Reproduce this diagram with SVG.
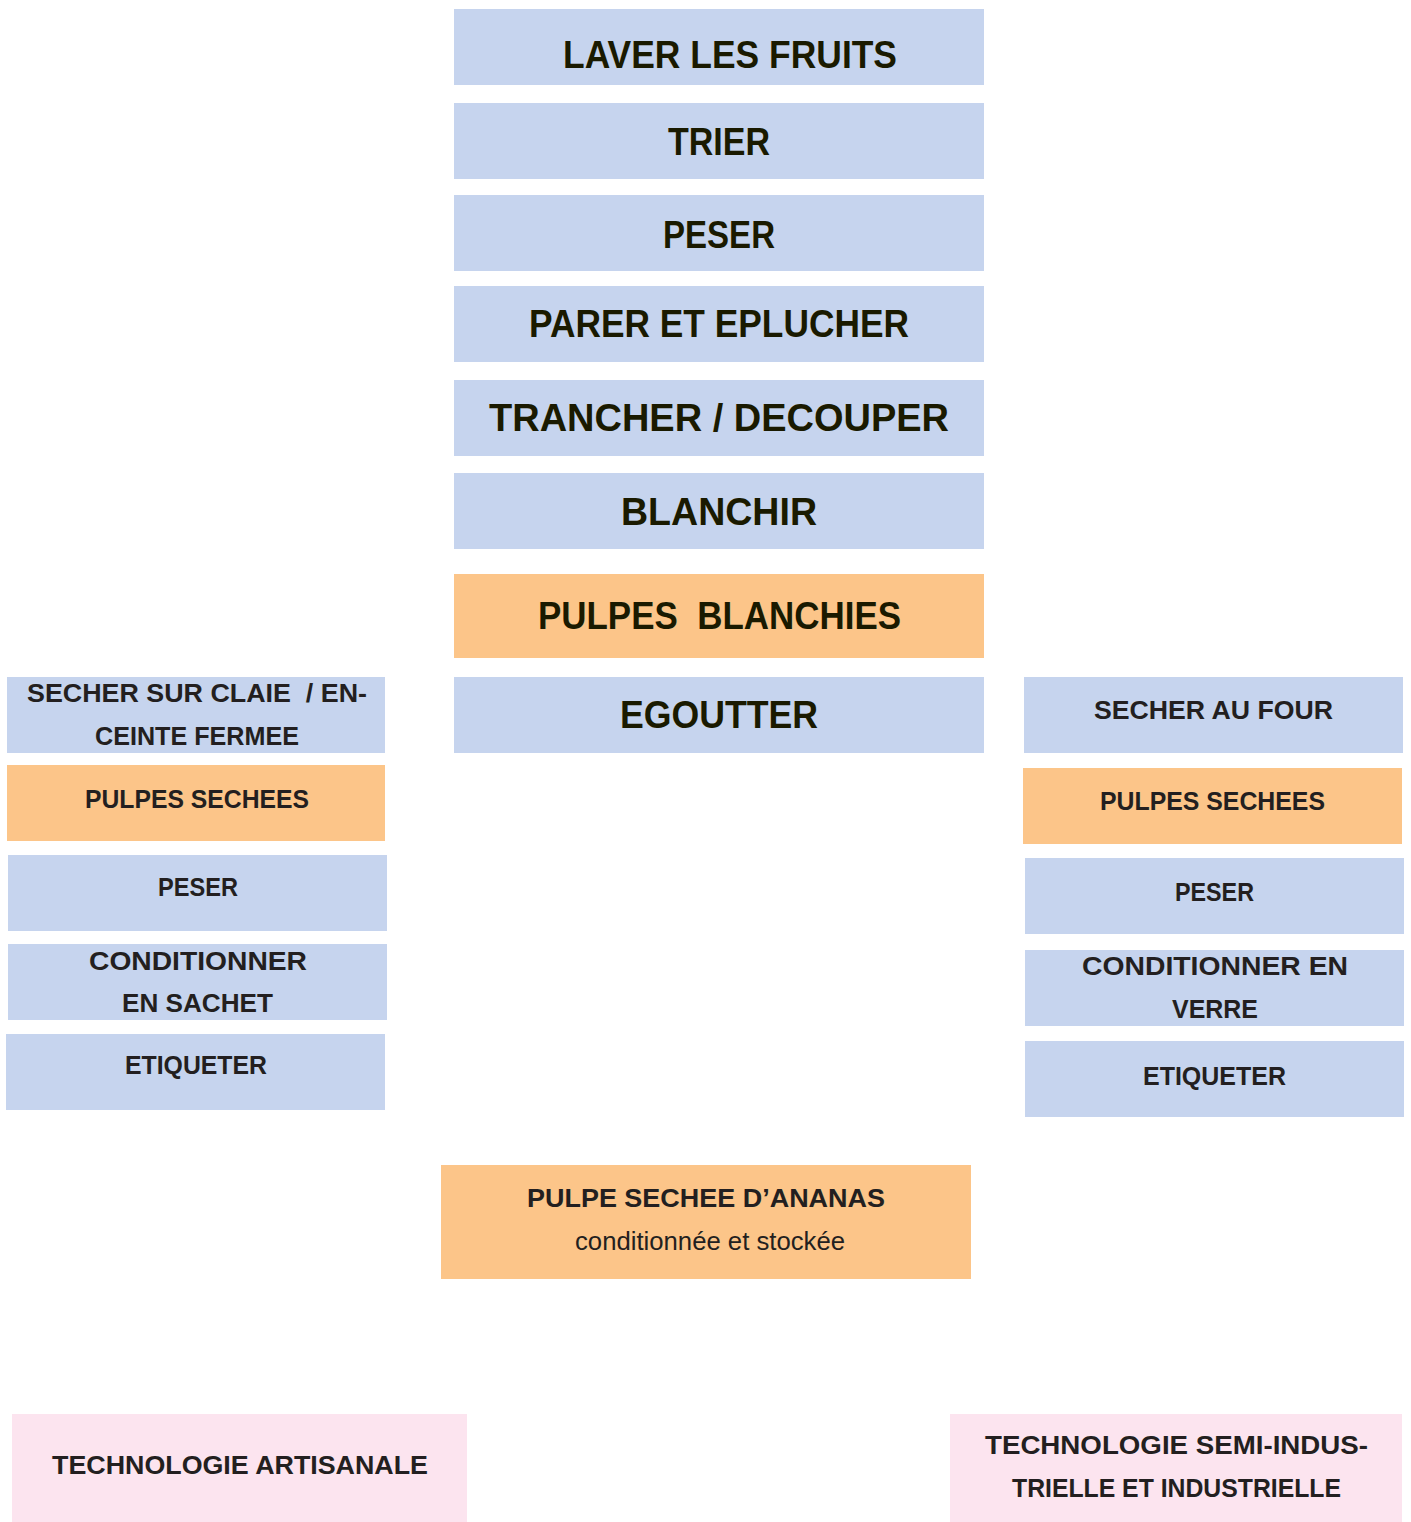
<svg xmlns="http://www.w3.org/2000/svg" width="1411" height="1522" viewBox="0 0 1411 1522">
<style>
.blue{fill:#C6D4EE}
.orange{fill:#FCC589}
.pink{fill:#FCE4EF}
.big{font-family:"Liberation Sans",Arial,sans-serif;font-weight:bold;font-size:39px;fill:#1A1A00;text-anchor:middle}
.small{font-family:"Liberation Sans",Arial,sans-serif;font-weight:bold;font-size:25px;fill:#231F20;text-anchor:middle}
.reg{font-family:"Liberation Sans",Arial,sans-serif;font-size:25px;fill:#231F20;text-anchor:middle}
</style>
<rect width="1411" height="1522" fill="#FFFFFF"/>
<g id="connectors"></g>
<g id="n-laver"><rect class="blue" x="454" y="9" width="530" height="76"/><text class="big" x="730" y="68" textLength="334" lengthAdjust="spacingAndGlyphs">LAVER LES FRUITS</text></g>
<g id="n-trier"><rect class="blue" x="454" y="103" width="530" height="76"/><text class="big" x="719" y="155" textLength="102" lengthAdjust="spacingAndGlyphs">TRIER</text></g>
<g id="n-peser"><rect class="blue" x="454" y="195" width="530" height="76"/><text class="big" x="719" y="248" textLength="112" lengthAdjust="spacingAndGlyphs">PESER</text></g>
<g id="n-parer"><rect class="blue" x="454" y="286" width="530" height="76"/><text class="big" x="719" y="337" textLength="380" lengthAdjust="spacingAndGlyphs">PARER ET EPLUCHER</text></g>
<g id="n-trancher"><rect class="blue" x="454" y="380" width="530" height="76"/><text class="big" x="719" y="431" textLength="460" lengthAdjust="spacingAndGlyphs">TRANCHER / DECOUPER</text></g>
<g id="n-blanchir"><rect class="blue" x="454" y="473" width="530" height="76"/><text class="big" x="719" y="525" textLength="196" lengthAdjust="spacingAndGlyphs">BLANCHIR</text></g>
<g id="n-pulpes-blanchies"><rect class="orange" x="454" y="574" width="530" height="84"/><text class="big" x="719.5" y="629" textLength="363" lengthAdjust="spacingAndGlyphs" xml:space="preserve">PULPES  BLANCHIES</text></g>
<g id="n-egoutter"><rect class="blue" x="454" y="677" width="530" height="76"/><text class="big" x="719" y="728" textLength="198" lengthAdjust="spacingAndGlyphs">EGOUTTER</text></g>

<g id="l-secher"><rect class="blue" x="7" y="677" width="378" height="76"/><text class="small" x="197" y="702" textLength="340" lengthAdjust="spacingAndGlyphs" xml:space="preserve">SECHER SUR CLAIE  / EN-</text><text class="small" x="197" y="745" textLength="204" lengthAdjust="spacingAndGlyphs">CEINTE FERMEE</text></g>
<g id="l-pulpes"><rect class="orange" x="7" y="765" width="378" height="76"/><text class="small" x="197" y="808" textLength="224" lengthAdjust="spacingAndGlyphs">PULPES SECHEES</text></g>
<g id="l-peser"><rect class="blue" x="8" y="855" width="379" height="76"/><text class="small" x="198" y="896" textLength="80" lengthAdjust="spacingAndGlyphs">PESER</text></g>
<g id="l-cond"><rect class="blue" x="8" y="944" width="379" height="76"/><text class="small" x="198" y="970" textLength="218" lengthAdjust="spacingAndGlyphs">CONDITIONNER</text><text class="small" x="197.5" y="1012" textLength="151" lengthAdjust="spacingAndGlyphs">EN SACHET</text></g>
<g id="l-etiq"><rect class="blue" x="6" y="1034" width="379" height="76"/><text class="small" x="196" y="1074" textLength="142" lengthAdjust="spacingAndGlyphs">ETIQUETER</text></g>

<g id="r-secher"><rect class="blue" x="1024" y="677" width="379" height="76"/><text class="small" x="1213.5" y="719" textLength="239" lengthAdjust="spacingAndGlyphs">SECHER AU FOUR</text></g>
<g id="r-pulpes"><rect class="orange" x="1023" y="768" width="379" height="76"/><text class="small" x="1212.5" y="810" textLength="225" lengthAdjust="spacingAndGlyphs">PULPES SECHEES</text></g>
<g id="r-peser"><rect class="blue" x="1025" y="858" width="379" height="76"/><text class="small" x="1214.5" y="901" textLength="79" lengthAdjust="spacingAndGlyphs">PESER</text></g>
<g id="r-cond"><rect class="blue" x="1025" y="950" width="379" height="76"/><text class="small" x="1215" y="975" textLength="266" lengthAdjust="spacingAndGlyphs">CONDITIONNER EN</text><text class="small" x="1215" y="1018" textLength="86" lengthAdjust="spacingAndGlyphs">VERRE</text></g>
<g id="r-etiq"><rect class="blue" x="1025" y="1041" width="379" height="76"/><text class="small" x="1214.5" y="1085" textLength="143" lengthAdjust="spacingAndGlyphs">ETIQUETER</text></g>

<g id="n-final"><rect class="orange" x="441" y="1165" width="530" height="114"/><text class="small" x="706" y="1207" textLength="358" lengthAdjust="spacingAndGlyphs">PULPE SECHEE D’ANANAS</text><text class="reg" x="710" y="1250" textLength="270" lengthAdjust="spacingAndGlyphs">conditionnée et stockée</text></g>

<g id="legend-artisanale"><rect class="pink" x="12" y="1414" width="455" height="108"/><text class="small" x="240" y="1474" textLength="376" lengthAdjust="spacingAndGlyphs">TECHNOLOGIE ARTISANALE</text></g>
<g id="legend-industrielle"><rect class="pink" x="950" y="1414" width="452" height="108"/><text class="small" x="1176.5" y="1454" textLength="383" lengthAdjust="spacingAndGlyphs">TECHNOLOGIE SEMI-INDUS-</text><text class="small" x="1176.5" y="1497" textLength="329" lengthAdjust="spacingAndGlyphs">TRIELLE ET INDUSTRIELLE</text></g>
</svg>
